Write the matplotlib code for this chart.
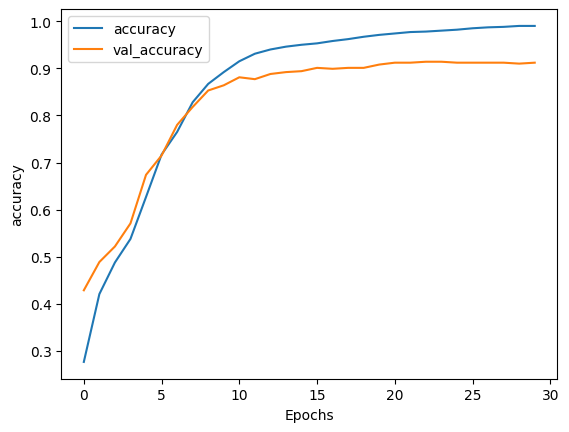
import matplotlib
matplotlib.use('Agg')
import matplotlib.pyplot as plt

epochs = list(range(30))

accuracy = [0.277, 0.421, 0.488, 0.538, 0.627, 0.717, 0.765, 0.828, 0.867, 0.892,
            0.915, 0.931, 0.940, 0.946, 0.950, 0.953, 0.958, 0.962, 0.967, 0.971,
            0.974, 0.977, 0.978, 0.980, 0.982, 0.985, 0.987, 0.988, 0.990, 0.990]

val_accuracy = [0.429, 0.489, 0.522, 0.571, 0.674, 0.715, 0.780, 0.818, 0.853, 0.864,
                0.881, 0.877, 0.888, 0.892, 0.894, 0.901, 0.899, 0.901, 0.901, 0.908,
                0.912, 0.912, 0.914, 0.914, 0.912, 0.912, 0.912, 0.912, 0.910, 0.912]

plt.figure(figsize=(6.4, 4.8), dpi=100)
plt.plot(epochs, accuracy)
plt.plot(epochs, val_accuracy)
plt.xlabel('Epochs')
plt.ylabel('accuracy')
plt.legend(['accuracy', 'val_accuracy'])
plt.savefig('out.png', bbox_inches='tight')
plt.close()
